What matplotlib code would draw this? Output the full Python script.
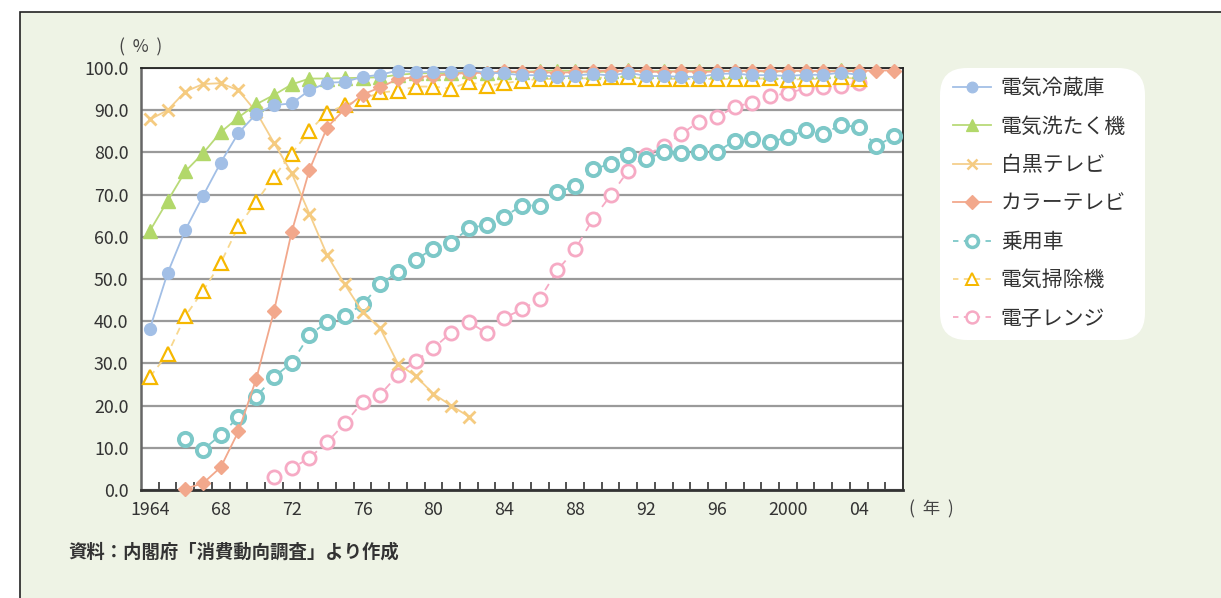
import numpy as np
import matplotlib
matplotlib.use("Agg")
import matplotlib.pyplot as plt
from matplotlib.patches import Rectangle, FancyBboxPatch
from matplotlib.lines import Line2D

plt.rcParams['font.family'] = ['Noto Sans CJK JP', 'DejaVu Sans']

# ---- data: household ownership rates (%) ----
years = list(range(1964, 2007))
tick_labels = ["1964", "68", "72", "76", "80", "84", "88", "92", "96", "2000", "04"]

fridge_start = 1964
fridge = [38.2, 51.4, 61.6, 69.7, 77.6, 84.6, 89.1, 91.2, 91.6, 94.7,
          96.5, 96.7, 97.9, 98.4, 99.4, 99.0, 99.1, 99.1, 99.5, 98.9,
          98.7, 98.3, 98.3, 97.9, 98.2, 98.6, 98.2, 98.9, 98.1, 98.1,
          97.9, 97.9, 98.6, 98.7, 98.3, 98.3, 98.1, 98.4, 98.4, 98.9, 98.4]

washer_start = 1964
washer = [61.4, 68.5, 75.5, 79.8, 84.8, 88.3, 91.4, 93.6, 96.1, 97.5,
          97.5, 97.6, 97.7, 97.8, 98.4, 98.7, 98.8, 98.8, 99.2, 98.8,
          99.0, 99.1, 99.3, 99.4, 99.3, 99.0, 99.2, 99.5, 99.2, 99.3,
          99.2, 99.3, 99.4, 99.3, 99.4, 99.0, 99.4, 99.3, 99.2, 99.5, 99.4]

bw_tv_start = 1964
bw_tv = [87.8, 90.0, 94.4, 96.2, 96.4, 94.7, 89.6, 82.3, 75.1, 65.5,
         55.7, 48.7, 42.2, 38.3, 29.9, 27.0, 22.8, 20.0, 17.4]

color_tv_start = 1966
color_tv = [0.3, 1.6, 5.4, 13.9, 26.3, 42.3, 61.1, 75.8, 85.9, 90.3,
            93.7, 95.4, 97.4, 97.8, 98.2, 98.5, 98.9, 98.8, 99.2, 99.1,
            99.0, 98.9, 99.0, 99.3, 99.4, 99.3, 99.2, 99.0, 99.3, 99.0,
            99.2, 99.3, 99.4, 99.2, 99.3, 99.4, 99.2, 99.2, 99.3, 99.4, 99.4]

car_start = 1966
car = [12.1, 9.5, 13.1, 17.3, 22.1, 26.8, 30.1, 36.7, 39.8, 41.2,
       44.0, 48.7, 51.7, 54.6, 57.2, 58.6, 62.0, 62.9, 64.8, 67.4,
       67.4, 70.6, 72.0, 76.0, 77.3, 79.5, 78.5, 80.0, 79.8, 80.0,
       80.1, 82.8, 83.2, 82.5, 83.6, 85.3, 84.4, 86.5, 86.0, 81.5, 83.9]

vacuum_start = 1964
vacuum = [26.8, 32.2, 41.2, 47.2, 53.8, 62.5, 68.3, 74.2, 79.7, 85.1,
          89.4, 91.2, 92.6, 94.2, 94.6, 95.6, 95.6, 95.1, 96.7, 95.7,
          96.4, 97.0, 97.4, 97.4, 97.5, 97.6, 97.8, 97.9, 97.4, 97.4,
          97.4, 97.4, 97.4, 97.4, 97.4, 97.6, 97.2, 97.4, 97.4, 97.8, 97.4]

microwave_start = 1971
microwave = [3.0, 5.1, 7.6, 11.3, 15.8, 20.8, 22.6, 27.3, 30.6, 33.6,
             37.3, 39.8, 37.2, 40.8, 42.8, 45.3, 52.1, 57.0, 64.2, 69.8,
             75.7, 79.4, 81.5, 84.4, 87.3, 88.3, 90.8, 91.8, 93.4, 94.0,
             95.2, 95.6, 95.7, 96.4]

names = ["電気冷蔵庫", "電気洗たく機", "白黒テレビ", "カラーテレビ",
         "乗用車", "電気掃除機", "電子レンジ"]


def positions(start, values):
    i0 = years.index(start)
    return np.arange(i0, i0 + len(values))


BG = "#EEF3E5"
fig = plt.figure(figsize=(12.21, 5.98), dpi=100)
fig.patch.set_facecolor("white")
W, H = 1221, 598

# framed panel
fig.patches.append(Rectangle((20 / W, -0.05), 1.1, (598 - 12) / H + 0.05,
                             transform=fig.transFigure, facecolor=BG,
                             edgecolor="#222222", linewidth=1.2, zorder=-10))

# rounded white box behind the legend
fig.patches.append(FancyBboxPatch((940 / W, 1 - 340 / H), 205 / W, 272 / H,
                                  boxstyle="round,pad=0,rounding_size=0.022",
                                  transform=fig.transFigure,
                                  facecolor="white", edgecolor="none",
                                  mutation_aspect=W / H, zorder=-5))

ax = fig.add_axes([141 / W, (598 - 490) / H, 762 / W, 422 / H])
ax.set_facecolor("white")

styles = [
    dict(data=(fridge_start, fridge), color="#A2BFE6", marker="o", ms=8.5,
         mfc="#A2BFE6", mec="#A2BFE6", ls="-", mew=1, z=10),
    dict(data=(washer_start, washer), color="#B9DA78", marker="^", ms=9.5,
         mfc="#B2D86A", mec="#B2D86A", ls="-", mew=1, z=8),
    dict(data=(bw_tv_start, bw_tv), color="#F5CF8C", marker="x", ms=8.5,
         mfc="none", mec="#F5CB80", ls="-", mew=2.0, z=7),
    dict(data=(color_tv_start, color_tv), color="#F2A88C", marker="D", ms=7.5,
         mfc="#F2A88C", mec="#F2A88C", ls="-", mew=1, z=9),
    dict(data=(car_start, car), color="#7DC8C8", marker="o", ms=9.5,
         mfc="white", mec="#7DC8C8", ls=(0, (4, 4)), mew=2.8, z=6),
    dict(data=(vacuum_start, vacuum), color="#F8D88E", marker="^", ms=10,
         mfc="white", mec="#F6B800", ls=(0, (4, 3)), mew=1.6, z=5),
    dict(data=(microwave_start, microwave), color="#F6AAC4", marker="o", ms=9.5,
         mfc="white", mec="#F6AAC4", ls=(0, (4, 4)), mew=2.0, z=4),
]

handles = []
for name, st in zip(names, styles):
    start, vals = st["data"]
    x = positions(start, vals)
    ax.plot(x, vals, color=st["color"], lw=1.3, ls=st["ls"],
            marker=st["marker"], ms=st["ms"], mfc=st["mfc"], mec=st["mec"],
            mew=st["mew"], zorder=st["z"], clip_on=False)
    handles.append(Line2D([], [], color=st["color"], lw=1.3,
                          ls=st["ls"] if st["ls"] == "-" else (0, (3, 3)),
                          marker=st["marker"], ms=st["ms"] * 0.9,
                          mfc=st["mfc"], mec=st["mec"], mew=st["mew"] * 0.9,
                          label=name))

ax.set_xlim(-0.5, len(years) - 0.5)
ax.set_ylim(0, 100)

# y axis
ax.set_yticks(np.arange(0, 101, 10))
ax.set_yticklabels([f"{v:.1f}" for v in np.arange(0, 101, 10)])
ax.yaxis.grid(True, color="#9A9A9A", lw=1.6)
ax.set_axisbelow(True)
ax.tick_params(axis="y", length=0, pad=9, labelsize=12.8, labelcolor="#333333")

# x axis: labels every four years, inward ticks between categories
major = [years.index(int(y)) if len(y) == 4 else years.index(
    (1900 if int(y) > 50 else 2000) + int(y)) for y in tick_labels]
ax.set_xticks(major)
ax.set_xticklabels(tick_labels)
ax.set_xticks(np.arange(0.5, len(years) - 1, 1.0), minor=True)
ax.tick_params(axis="x", which="major", length=0, pad=8, labelsize=12.8,
               labelcolor="#333333")
ax.tick_params(axis="x", which="minor", direction="in", length=6,
               width=1.2, color="#333333")

ax.spines["left"].set_color("#666666")
ax.spines["left"].set_linewidth(1.8)
ax.spines["bottom"].set_color("#333333")
ax.spines["bottom"].set_linewidth(2.0)
ax.spines["top"].set_color("#222222")
ax.spines["top"].set_linewidth(1.3)
ax.spines["right"].set_color("#222222")
ax.spines["right"].set_linewidth(1.3)

fig.text(141 / W, 1 - 47 / H, "(  %  )", ha="center", va="center",
         fontsize=12.5, color="#444444")
fig.text(931 / W, 1 - 509 / H, "(  年  )", ha="center", va="center",
         fontsize=12.5, color="#444444")
fig.text(68 / W, 1 - 552 / H, "資料：内閣府「消費動向調査」より作成",
         ha="left", va="center", fontsize=13.2, fontweight="bold",
         color="#333333")

leg = fig.legend(handles=handles, loc="upper left",
                 bbox_to_anchor=(953 / W, 1 - 77 / H),
                 frameon=False, fontsize=15, handlelength=1.8,
                 handletextpad=0.5, labelspacing=0.79, borderpad=0,
                 borderaxespad=0)
for t in leg.get_texts():
    t.set_color("#333333")

fig.savefig("out.png", dpi=100, facecolor=fig.get_facecolor())
